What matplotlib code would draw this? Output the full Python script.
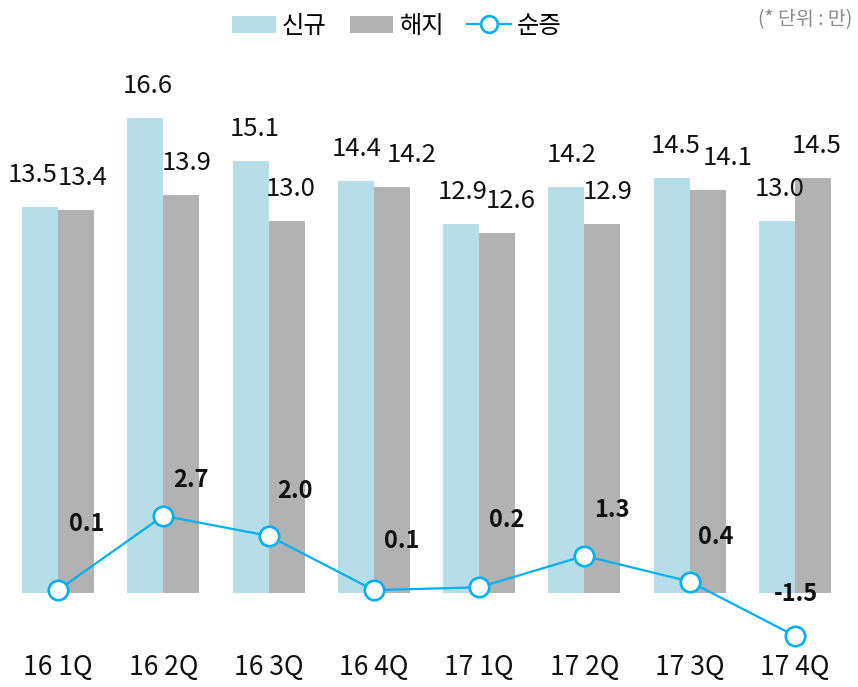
import matplotlib
matplotlib.use("Agg")
import matplotlib.pyplot as plt
import numpy as np
from matplotlib.patches import Patch
from matplotlib.lines import Line2D

plt.rcParams['font.family'] = ['Noto Sans CJK KR', 'DejaVu Sans']

categories = ["16 1Q", "16 2Q", "16 3Q", "16 4Q", "17 1Q", "17 2Q", "17 3Q", "17 4Q"]
new_subs = [13.5, 16.6, 15.1, 14.4, 12.9, 14.2, 14.5, 13.0]
churn = [13.4, 13.9, 13.0, 14.2, 12.6, 12.9, 14.1, 14.5]
net_add = [0.1, 2.7, 2.0, 0.1, 0.2, 1.3, 0.4, -1.5]

# label offsets in pixels (style / placement only)
new_dx = [-7, 3, 4, 1, 2, 5, 4, 3]
churn_dx = [7, 5, 4, 20, 14, 5, 20, 4]
net_off = [(29, 66), (28, 36), (26, 45), (28, 49), (28, 67), (28, 46), (26, 45), (1, 42)]

W, H, DPI = 858, 687, 100
fig = plt.figure(figsize=(W / DPI, H / DPI), dpi=DPI)

# axes geometry in pixels
ax_top_px, ax_bot_px = 60, 650
zero_px, px_per_unit = 593, 28.6
x0_px, x7_px = 58, 795
ax = fig.add_axes([0, 1 - ax_bot_px / H, 1, (ax_bot_px - ax_top_px) / H])
du = 7 / (x7_px - x0_px)
ax.set_xlim(-x0_px * du, 7 + (W - x7_px) * du)
ax.set_ylim(-(ax_bot_px - zero_px) / px_per_unit, (zero_px - ax_top_px) / px_per_unit)

c_new = "#b7dde8"
c_churn = "#b2b2b2"
c_line = "#00b0f0"
txt = '#111111'

x = np.arange(len(categories))
bw = 36 * du
ax.bar(x - bw / 2, new_subs, width=bw, color=c_new, zorder=1)
ax.bar(x + bw / 2, churn, width=bw, color=c_churn, zorder=1)
ax.plot(x, net_add, color=c_line, lw=1.6, marker='o', ms=14, mfc='white',
        mec=c_line, mew=1.9, zorder=3)

pt = 72 / DPI
for i in range(len(x)):
    ax.annotate(f"{new_subs[i]:.1f}", (x[i] - bw / 2, new_subs[i]),
                xytext=(new_dx[i] * pt, 32 * pt), textcoords='offset points',
                ha='center', va='center', fontsize=18.5, color=txt)
    ax.annotate(f"{churn[i]:.1f}", (x[i] + bw / 2, churn[i]),
                xytext=(churn_dx[i] * pt, 32 * pt), textcoords='offset points',
                ha='center', va='center', fontsize=18.5, color=txt)
    dx, dy = net_off[i]
    ax.annotate(f"{net_add[i]:.1f}", (x[i], net_add[i]),
                xytext=(dx * pt, dy * pt), textcoords='offset points',
                ha='center', va='center', fontsize=17, fontweight='bold',
                color=txt, zorder=4)

ax.set_xticks(x)
ax.set_xticklabels(categories, fontsize=19, color=txt)
ax.tick_params(axis='x', length=0, pad=3)
ax.set_yticks([])
for s in ax.spines.values():
    s.set_visible(False)

handles = [Patch(facecolor=c_new, edgecolor='none'),
           Patch(facecolor=c_churn, edgecolor='none'),
           Line2D([0], [0], color=c_line, lw=1.6, marker='o', ms=12, mfc='white',
                  mec=c_line, mew=1.9)]
fig.legend(handles, ["신규", "해지", "순증"], loc='center',
           bbox_to_anchor=(397 / W, 1 - 26 / H), ncol=3, frameon=False,
           prop={'size': 17.5},
           handlelength=1.8, handleheight=0.7, handletextpad=0.25,
           columnspacing=0.95, borderpad=0, borderaxespad=0)

fig.text(852 / W, 1 - 20 / H, "(* 단위 : 만)", ha='right', va='center',
         fontsize=14, color='#8a8a8a')

fig.savefig("out.png", dpi=DPI)
